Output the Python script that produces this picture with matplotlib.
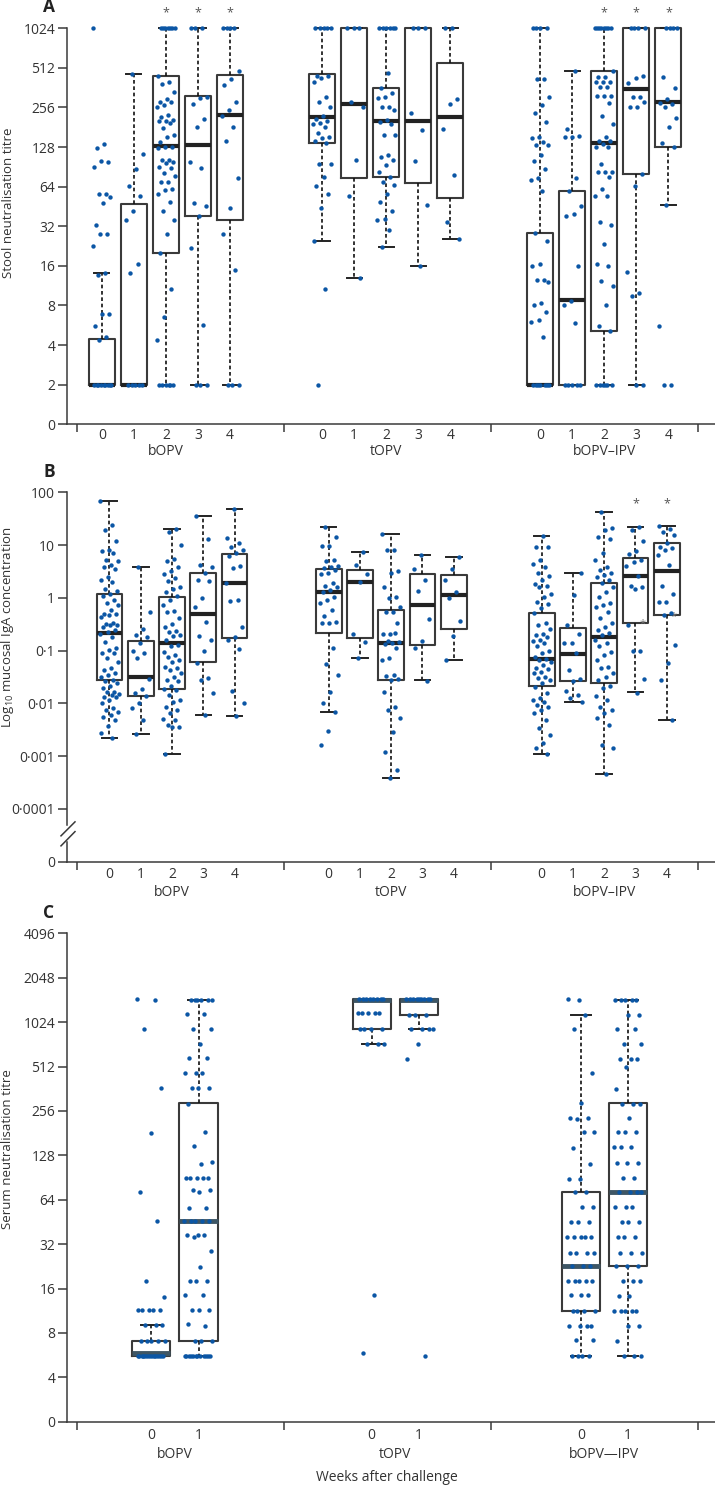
import matplotlib
matplotlib.use("Agg")
import matplotlib.pyplot as plt
import numpy as np
from matplotlib.ticker import NullLocator

plt.rcParams['font.family'] = ['Open Sans', 'DejaVu Sans']
plt.rcParams['mathtext.fontset'] = 'custom'
plt.rcParams['mathtext.rm'] = 'Open Sans'

# ---------------- data ----------------
groups = ['bOPV', 'tOPV', 'bOPV–IPV']
groups_c = ['bOPV', 'tOPV', 'bOPV—IPV']
weeks_ab = ['0', '1', '2', '3', '4']
weeks_c = ['0', '1']

# box stats per week: (q1, median, q3, lower whisker, upper whisker)
stool_bopv_box = [(2, 2, 4.45, 2, 14.2), (2, 2, 47.5, 2, 464), (20.2, 131, 443, 2, 1024),
                  (38.3, 133, 313, 2, 1024), (35.5, 223, 452, 2, 1024)]
stool_topv_box = [(137, 217, 463, 24.6, 1024), (74, 271, 1024, 12.9, 1024), (75.6, 202, 362, 22.3, 1024),
                  (68, 202, 1024, 15.9, 1024), (52.7, 217, 556, 25.8, 1024)]
stool_ipv_box = [(2, 2, 28.5, 2, 1024), (2, 8.8, 58.9, 2, 485), (5.1, 137, 485, 2, 1024),
                 (79.5, 352, 1024, 2, 1024), (129, 284, 1024, 46.5, 1024)]

stool_bopv = [
    [1024, 135, 125, 99, 100, 91, 56, 56, 53, 48, 33, 28, 28, 22.5, 14.2, 13.7, 6.9, 6.9, 5.6, 4.6, 4.4,
     2, 2, 2, 2, 2, 2, 2, 2, 2],
    [464, 113, 87, 65, 54, 42, 36, 16.6, 14.2, 2, 2, 2, 2, 2],
    [1024] * 7 + [448, 402, 385, 333, 298, 284, 284, 267, 256, 224, 215, 206, 202, 202, 194, 180, 159, 154,
                  141, 129, 129, 125, 103, 102, 98, 97, 91, 89, 82, 77, 69, 69, 62, 60, 56, 49, 42, 36, 28,
                  20, 10.6, 6.5, 4.4] + [2] * 6,
    [1024, 1024, 1024, 309, 303, 270, 209, 181, 98, 89, 48, 46, 38, 22, 5.7, 2, 2, 2],
    [1024] * 4 + [487, 419, 380, 284, 246, 221, 181, 143, 75, 44, 28, 15, 2, 2, 2],
]
stool_topv = [
    [1024] * 5 + [446, 448, 428, 401, 309, 282, 256, 222, 210, 202, 194, 193, 181, 165, 152, 150, 143, 138,
                  96, 96, 76, 65, 56, 44, 24.6, 10.6, 2],
    [1024, 1024, 1024, 282, 256, 102, 54, 12.9],
    [1024] * 6 + [467, 362, 329, 309, 300, 258, 258, 245, 206, 199, 193, 159, 159, 111, 107, 102, 93, 83,
                  76, 69, 66, 56, 49, 42, 36.5, 36, 30, 22.3],
    [1024, 1024, 1024, 232, 173, 101, 46.5, 16],
    [1024, 1024, 298, 273, 175, 79, 34.5, 25.8],
]
stool_ipv = [
    [1024] * 4 + [422, 420, 309, 267, 234, 200, 154, 150, 141, 132, 132, 112, 101, 87, 74, 72, 59, 28.5,
                  24.6, 16.4, 16, 12.6, 12.4, 12, 8.3, 8, 7.2, 6.2, 6.0, 4.6] + [2] * 7,
    [485, 175, 156, 153, 152, 75, 59, 46, 39.6, 38.3, 16, 8.7, 8, 5.9, 2, 2, 2, 2, 2],
    [1024] * 8 + [485, 439, 439, 398, 398, 398, 364, 364, 313, 313, 313, 276, 221, 193, 152, 143, 143, 135,
                  129, 129, 96, 83, 83, 83, 75.6, 62, 54, 54, 34.8, 32.9, 23.4, 16.5, 16, 12.3, 11.2, 8,
                  5.6, 5.1] + [2] * 6,
    [1024] * 4 + [446, 428, 396, 309, 305, 284, 260, 257, 79.5, 65, 14.5, 9.9, 9.4, 2, 2],
    [1024] * 4 + [439, 359, 296, 278, 270, 256, 212, 181, 137, 129, 46.5, 5.6, 2, 2],
]

iga_bopv_box = [(0.0273, 0.219, 1.18, 0.0022, 68.5), (0.0136, 0.0321, 0.155, 0.0026, 3.8),
                (0.0187, 0.137, 1.05, 0.00108, 20.5), (0.061, 0.50, 2.92, 0.0059, 36),
                (0.174, 1.88, 6.9, 0.0058, 48)]
iga_topv_box = [(0.218, 1.27, 3.57, 0.0068, 22.3), (0.174, 2.03, 3.37, 0.072, 7.5),
                (0.0278, 0.137, 0.58, 0.00038, 16), (0.128, 0.73, 2.79, 0.0273, 6.6),
                (0.257, 1.13, 2.76, 0.066, 6.0)]
iga_ipv_box = [(0.0214, 0.069, 0.52, 0.0011, 15.1), (0.0266, 0.086, 0.27, 0.0108, 2.9),
               (0.0247, 0.184, 1.88, 0.00046, 42), (0.339, 2.63, 5.7, 0.0162, 22.4),
               (0.47, 3.27, 11.1, 0.0049, 23.3)]

iga_bopv = [
    [68, 24, 19.5, 11.7, 8.1, 7.6, 7.2, 5.2, 4.9, 4.2, 3.9, 3.5, 2.5, 2.2, 2.0, 1.5, 1.35, 1.2, 1.1, 0.91,
     0.79, 0.73, 0.59, 0.5, 0.49, 0.48, 0.44, 0.33, 0.32, 0.31, 0.3, 0.28, 0.25, 0.23, 0.21, 0.18, 0.148,
     0.11, 0.102, 0.09, 0.089, 0.071, 0.060, 0.046, 0.042, 0.037, 0.034, 0.031, 0.028, 0.027, 0.024, 0.021,
     0.0194, 0.0167, 0.0162, 0.015, 0.0145, 0.0134, 0.013, 0.0116, 0.0100, 0.008, 0.0075, 0.0069, 0.0060,
     0.0056, 0.0049, 0.0037, 0.0027, 0.0022],
    [3.8, 0.53, 0.26, 0.20, 0.18, 0.14, 0.10, 0.089, 0.074, 0.029, 0.0186, 0.0155, 0.0136, 0.010, 0.0081,
     0.0049, 0.0026],
    [20.5, 17.4, 10, 5.5, 5.0, 3.8, 3.2, 2.8, 2.35, 2.1, 1.6, 1.5, 1.3, 1.1, 0.91, 0.73, 0.56, 0.53, 0.41,
     0.32, 0.28, 0.24, 0.23, 0.20, 0.19, 0.16, 0.129, 0.12, 0.096, 0.083, 0.076, 0.066, 0.062, 0.050,
     0.046, 0.042, 0.038, 0.032, 0.028, 0.026, 0.021, 0.0186, 0.0176, 0.0145, 0.0116, 0.0107, 0.0087,
     0.0075, 0.0065, 0.0050, 0.0048, 0.0039, 0.0036, 0.0035, 0.00108],
    [36, 12.9, 4.2, 3.8, 2.9, 2.2, 2.1, 0.98, 0.68, 0.35, 0.19, 0.16, 0.10, 0.059, 0.030, 0.028, 0.0155,
     0.0059],
    [48, 13.5, 10.8, 9.3, 8.1, 7.2, 6.2, 4.0, 3.6, 1.88, 0.91, 0.89, 0.28, 0.18, 0.16, 0.105, 0.0175,
     0.0100, 0.0058],
]
iga_topv = [
    [22, 14, 9.7, 9.5, 5.2, 5.0, 4.1, 3.9, 3.6, 3.4, 2.9, 2.8, 1.95, 1.67, 1.6, 1.4, 1.3, 1.05, 0.91, 0.79,
     0.59, 0.45, 0.35, 0.34, 0.34, 0.11, 0.055, 0.034, 0.0162, 0.0103, 0.0069, 0.0030, 0.0016],
    [7.5, 4.2, 2.8, 2.03, 0.206, 0.145, 0.072],
    [16, 8.1, 8.0, 3.2, 2.9, 1.58, 1.02, 0.98, 0.68, 0.55, 0.53, 0.34, 0.21, 0.21, 0.22, 0.15, 0.145, 0.14,
     0.132, 0.11, 0.071, 0.066, 0.034, 0.033, 0.029, 0.028, 0.0166, 0.0087, 0.0075, 0.0052, 0.0029,
     0.00118, 0.00055, 0.00038],
    [6.6, 3.5, 2.2, 1.37, 0.40, 0.15, 0.11, 0.027],
    [6.0, 3.5, 2.2, 1.3, 1.0, 0.36, 0.19, 0.066],
]
iga_ipv = [
    [15, 9.3, 9.0, 5.2, 4.3, 3.9, 3.0, 2.6, 2.2, 1.8, 1.67, 1.58, 1.2, 1.02, 0.85, 0.76, 0.63, 0.52, 0.33,
     0.30, 0.26, 0.21, 0.195, 0.18, 0.16, 0.155, 0.138, 0.125, 0.10, 0.089, 0.077, 0.07, 0.066, 0.060,
     0.053, 0.047, 0.045, 0.040, 0.037, 0.032, 0.030, 0.028, 0.024, 0.020, 0.0155, 0.0129, 0.0116,
     0.0107, 0.0094, 0.0087, 0.0075, 0.0065, 0.0049, 0.0034, 0.0025, 0.00174, 0.0014, 0.0011],
    [2.9, 1.12, 0.30, 0.21, 0.14, 0.14, 0.089, 0.043, 0.029, 0.0266, 0.0175, 0.0145, 0.0125, 0.0108],
    [42, 21, 19.4, 14.4, 12.8, 7.2, 5.2, 3.9, 3.4, 2.9, 2.7, 2.5, 2.2, 1.88, 1.58, 1.3, 1.05, 0.79, 0.74,
     0.68, 0.53, 0.41, 0.34, 0.28, 0.25, 0.22, 0.20, 0.16, 0.14, 0.12, 0.096, 0.083, 0.066, 0.050, 0.046,
     0.038, 0.032, 0.028, 0.021, 0.0195, 0.0138, 0.0116, 0.0087, 0.0075, 0.0065, 0.0052, 0.0039, 0.0016,
     0.0014, 0.00046],
    [22, 19, 12, 7.6, 6.8, 5.2, 4.7, 4.0, 2.6, 1.67, 1.6, 1.45, 0.31, 0.10, 0.097, 0.029, 0.016],
    [23, 20, 18, 15.5, 10.8, 9.3, 8.7, 8.1, 6.5, 4.2, 1.67, 1.2, 0.85, 0.84, 0.51, 0.48, 0.13, 0.058,
     0.028, 0.0049],
]

serum_bopv_box = [(5.6, 5.8, 7.1, 5.6, 9.0), (7.1, 45.9, 290, 5.6, 1456)]
serum_topv_box = [(917, 1456, 1480, 730, 1480), (1152, 1456, 1480, 917, 1480)]
serum_ipv_box = [(11.3, 22.9, 72.5, 5.6, 1152), (22.6, 72.5, 290, 5.6, 1456)]

serum_bopv = [
    [1480, 1440, 917, 364, 180, 72, 46, 17.9, 14] + [11.4] * 5 + [9] * 3 + [7.1] * 5 + [5.6] * 15,
    [1456] * 6 + [1170, 1170, 920, 920, 730, 588, 588, 465, 465, 465, 365, 365, 365, 285, 183, 147, 115,
                  112] + [90] * 5 + [74, 74, 72, 56, 56] + [46] * 5 + [37, 37, 37, 36, 28.6, 22.5, 17.9,
                  17.9, 18, 14.4, 14.4, 11.4, 11.4, 11.4, 9.2, 8.9, 7.1, 7.1, 7.1] + [5.6] * 12,
]
serum_topv = [
    [1480] * 8 + [1185] * 5 + [917] * 4 + [730] * 3 + [14.4, 5.8],
    [1480] * 9 + [1152] * 3 + [917] * 4 + [724, 572, 5.6],
]
serum_ipv = [
    [1456, 1480, 1152, 917, 465, 290, 229, 229, 226, 183, 183, 143, 111, 89, 89, 72.5, 72.5, 57, 57]
    + [45] * 3 + [36] * 5 + [28] * 4 + [22.6] * 3 + [17.9] * 5 + [14.4] * 3 + [11.3] * 4 + [8.9] * 4
    + [7.2] * 2 + [5.6] * 4,
    [1456] * 5 + [1152] * 2 + [920, 920, 730, 730, 580, 580, 580, 505, 360, 285, 285, 285, 229]
    + [183] * 3 + [145] * 3 + [113] * 3 + [90] * 2 + [72.5] * 4 + [57] * 3 + [45] * 3 + [36] * 3
    + [28] * 3 + [22.6] * 3 + [18] * 3 + [14.3] * 2 + [11.3] * 5 + [8.9] * 2 + [7.1] + [5.6] * 3,
]

# ---------------- styling ----------------
TXT = '#333333'
DOT = '#0b56a5'
EDGE = '#3a3a3a'
W, H = 715, 1490


def px_box(left, top, right, bottom):
    return [left / W, 1 - bottom / H, (right - left) / W, (bottom - top) / H]


def draw_boxes(ax, boxes, points, x0, amp, width, capw, med_color, med_lw, seed):
    stats = [{'q1': b[0], 'med': b[1], 'q3': b[2], 'whislo': b[3], 'whishi': b[4]} for b in boxes]
    arts = ax.bxp(stats, positions=x0, widths=width, capwidths=capw, showfliers=False,
                  manage_ticks=False,
                  boxprops=dict(color=EDGE, lw=1.5),
                  whiskerprops=dict(color='#111111', lw=1.2, ls=(0, (2.2, 1.6))),
                  capprops=dict(color='#222222', lw=1.4),
                  medianprops=dict(color=med_color, lw=med_lw, solid_capstyle='butt'))
    for lst in arts.values():
        for a in lst:
            a.set_clip_on(False)
    for i, (x, vals) in enumerate(zip(x0, points)):
        n = len(vals)
        off = ((np.arange(n) * 0.618034 + 0.37 * i + seed) % 1.0 - 0.5) * 2 * amp
        ax.scatter(x + off, vals, s=10, color=DOT, linewidths=0, zorder=4, clip_on=False)


def setup_x(ax):
    ax.set_xlim(-10 / 207, 3 + 17 / 207)
    ax.set_xticks([0, 1, 2, 3])
    ax.set_xticklabels([])
    ax.tick_params(axis='x', direction='out', length=6, width=1.1, color=EDGE)
    ax.tick_params(axis='y', direction='out', length=6.5, width=1.1, color=EDGE,
                   labelsize=10, labelcolor=TXT, pad=2)
    for s in ['top', 'right']:
        ax.spines[s].set_visible(False)
    for s in ['left', 'bottom']:
        ax.spines[s].set_color(EDGE)
        ax.spines[s].set_linewidth(1.1)
    ax.yaxis.set_minor_locator(NullLocator())


def label_below(ax, x, text, dy, size=10):
    ax.annotate(text, xy=(x, 0), xycoords=('data', 'axes fraction'), xytext=(0, -dy),
                textcoords='offset points', ha='center', va='center', fontsize=size, color=TXT)


fig = plt.figure(figsize=(7.15, 14.9), dpi=100)

# ---------------- panel A ----------------
axA = fig.add_axes(px_box(67, 28.3, 715, 424.3))
setup_x(axA)
axA.set_yscale('log', base=2)
axA.set_ylim(1, 1024)
tA = [1, 2, 4, 8, 16, 32, 64, 128, 256, 512, 1024]
axA.set_yticks(tA)
axA.set_yticklabels(['0'] + [str(t) for t in tA[1:]])
axA.yaxis.set_minor_locator(NullLocator())
centA = [0.430, 1.494, 2.547]
stepA = 0.155
for g, (bx, pts) in enumerate(zip([stool_bopv_box, stool_topv_box, stool_ipv_box],
                                  [stool_bopv, stool_topv, stool_ipv])):
    xs = [centA[g] + (i - 2) * stepA for i in range(5)]
    draw_boxes(axA, bx, pts, xs, 0.045, 0.126, 0.072, '#222222', 3.0, 0.13 * g)
    for i, x in enumerate(xs):
        label_below(axA, x, weeks_ab[i], 7.9)
        if g != 1 and i >= 2:
            axA.annotate('*', xy=(x, 1), xycoords=('data', 'axes fraction'), xytext=(0, 11),
                         textcoords='offset points', ha='center', va='center', fontsize=9, color='#555555')
    label_below(axA, centA[g], groups[g], 19.3)

# ---------------- panel B ----------------
axB = fig.add_axes(px_box(67, 492.3, 715, 861.7))
setup_x(axB)
axB.set_yscale('log')
axB.set_ylim(1e-5, 100)
tB = [1e-5, 1e-4, 1e-3, 1e-2, 1e-1, 1, 10, 100]
axB.set_yticks(tB)
axB.set_yticklabels(['0', '0·0001', '0·001', '0·01', '0·1', '1', '10', '100'])
axB.yaxis.set_minor_locator(NullLocator())
centB = [0.459, 1.518, 2.547]
stepB = 0.151
for g, (bx, pts) in enumerate(zip([iga_bopv_box, iga_topv_box, iga_ipv_box],
                                  [iga_bopv, iga_topv, iga_ipv])):
    xs = [centB[g] + (i - 2) * stepB for i in range(5)]
    draw_boxes(axB, bx, pts, xs, 0.045, 0.124, 0.075, '#222222', 3.0, 0.29 * g)
    for i, x in enumerate(xs):
        label_below(axB, x, weeks_ab[i], 9.0)
        if g == 2 and i >= 3:
            axB.annotate('*', xy=(x, 1), xycoords=('data', 'axes fraction'), xytext=(0, -8),
                         textcoords='offset points', ha='center', va='center', fontsize=9, color='#555555')
            axB.annotate('*', xy=(x, bx[i][0]), xytext=(5, -1), textcoords='offset points',
                         ha='center', va='center', fontsize=8, color='#777777')
    label_below(axB, centB[g], groups[g], 22)

# axis break on the left spine
axB.spines['left'].set_bounds(10 ** -4.3, 100)
ytr = axB.get_yaxis_transform()
axB.plot([0, 0], [1e-5, 10 ** -4.62], transform=ytr, color=EDGE, lw=1.1, clip_on=False)
xl, xr = -6 / 648, 8 / 648
axB.plot([xl, xr], [10 ** -4.51, 10 ** -4.245], transform=ytr, color=EDGE, lw=1.1, clip_on=False)
axB.plot([xl, xr], [10 ** -4.70, 10 ** -4.43], transform=ytr, color=EDGE, lw=1.1, clip_on=False)

# ---------------- panel C ----------------
axC = fig.add_axes(px_box(67, 933.3, 715, 1421.7))
setup_x(axC)
axC.set_yscale('log', base=2)
axC.set_ylim(2, 4096)
tC = [2, 4, 8, 16, 32, 64, 128, 256, 512, 1024, 2048, 4096]
axC.set_yticks(tC)
axC.set_yticklabels(['0'] + [str(t) for t in tC[1:]])
axC.yaxis.set_minor_locator(NullLocator())
centC = [0.473, 1.537, 2.548]
stepC = 0.228
for g, (bx, pts) in enumerate(zip([serum_bopv_box, serum_topv_box, serum_ipv_box],
                                  [serum_bopv, serum_topv, serum_ipv])):
    xs = [centC[g] - stepC / 2, centC[g] + stepC / 2]
    draw_boxes(axC, bx, pts, xs, 0.068, 0.184, 0.097, '#3e5665', 3.5, 0.21 * g)
    for i, x in enumerate(xs):
        label_below(axC, x, weeks_c[i], 9.6)
    label_below(axC, centC[g], groups_c[g], 23.3)
label_below(axC, 1.498, 'Weeks after challenge', 40)

# ---------------- labels ----------------
fig.text(49 / W, 1 - 7 / H, 'A', fontsize=12.5, fontweight='bold', ha='center', va='center', color='#222222')
fig.text(49 / W, 1 - 471.7 / H, 'B', fontsize=12.5, fontweight='bold', ha='center', va='center', color='#222222')
fig.text(49 / W, 1 - 913 / H, 'C', fontsize=12.5, fontweight='bold', ha='center', va='center', color='#222222')

fig.text(9 / W, 1 - 203 / H, 'Stool neutralisation titre', rotation=90, ha='center', va='center',
         fontsize=9.5, color=TXT)
fig.text(8 / W, 1 - 627.5 / H, 'Log$_{10}$ mucosal IgA concentration', rotation=90, ha='center',
         va='center', fontsize=9.5, color=TXT)
fig.text(8 / W, 1 - 1148.6 / H, 'Serum neutralisation titre', rotation=90, ha='center', va='center',
         fontsize=9.5, color=TXT)

fig.savefig('out.png', dpi=100)
